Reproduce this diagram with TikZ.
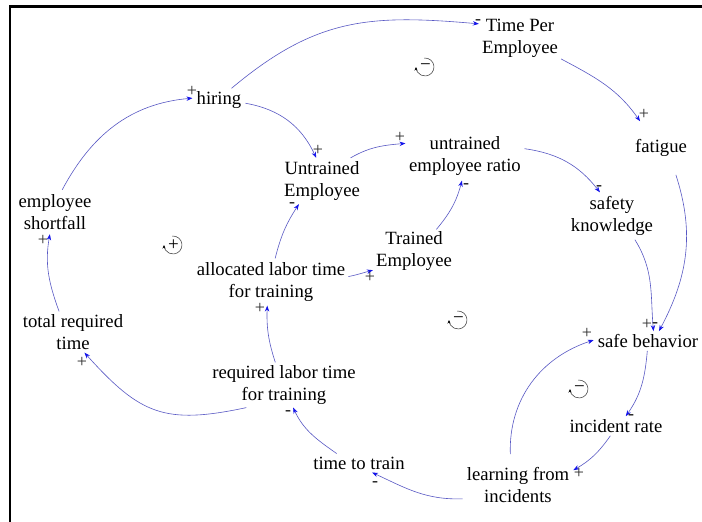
\documentclass[tikz,border=0pt]{standalone}
\usepackage{fontspec}
\setmainfont{Liberation Serif}
\usetikzlibrary{arrows.meta}
\definecolor{linkc}{RGB}{88,88,196}
\definecolor{tipc}{RGB}{20,20,235}
\definecolor{signc}{RGB}{45,45,45}
\tikzset{
  var/.style={align=center, inner xsep=3pt, inner ysep=3pt,
    font=\fontsize{18.7}{21.8}\selectfont},
  link/.style={draw=linkc, line width=0.6pt,
    -{Stealth[length=6pt,width=4.4pt,color=tipc]}},
  sgn/.style={inner sep=0pt, font=\fontsize{18}{18}\selectfont, text=signc},
  pics/loopsign/.style={code={
    \draw[line width=0.55pt, draw=black!75,
      -{Stealth[length=3.5pt,width=3pt,color=black]}] (95:9) arc (95:-180:9);
    \node[inner sep=0pt, font=\fontsize{19}{19}\selectfont] (-s) at (0.5,0) {#1};
  }},
}
\begin{document}
\begin{tikzpicture}[x=1pt,y=1pt]
  \fill[white] (0,0) rectangle (702,-522);
  \useasboundingbox (0,0) rectangle (702,-522);
  % frame edges
  \draw[line width=2.2pt] (10,-522) -- (10,-6.5) -- (702,-6.5);

  % variables
  \node[var] (tpe) at (520,-38) {Time Per\\Employee};
  \node[var, inner xsep=4pt] (hiring) at (219,-100) {hiring};
  \node[var, inner ysep=18pt] (fat) at (661,-148) {fatigue};
  \node[var, inner ysep=3.5pt] (ue) at (322,-181) {Untrained\\Employee};
  \node[var, inner xsep=3.5pt, inner ysep=5pt] (uer) at (465,-156) {untrained\\employee ratio};
  \node[var, inner ysep=4pt] (sk) at (612,-216) {safety\\knowledge};
  \node[var, inner ysep=4.5pt] (es) at (55,-212) {employee\\shortfall};
  \node[var, inner ysep=2pt] (te) at (414,-251) {Trained\\Employee};
  \node[var, inner ysep=4pt] (alt) at (271,-282) {allocated labor time\\for training};
  \node[var] (trt) at (73,-332) {total required\\time};
  \node[var, inner xsep=4pt] (sb) at (648,-341) {safe behavior};
  \node[var] (rlt) at (284,-385) {required labor time\\for training};
  \node[var] (ir) at (616,-426) {incident rate};
  \node[var] (ttt) at (359,-463) {time to train};
  \node[var, inner xsep=4pt, inner ysep=13pt] (lfi) at (518,-485) {learning from\\incidents};

  % causal links
  \draw[link] (hiring.43) to[out=40,in=175,looseness=1.1] (tpe.161);
  \draw[link] (tpe.-27) to[out=-28,in=125] (fat.128);
  \draw[link] (fat.-61) to[out=-72,in=62] (sb.42);
  \draw[link] (hiring.-7) to[out=-10,in=115] (ue.104);
  \draw[link] (es.72) to[out=62,in=-175] (hiring.176);
  \draw[link] (trt.124) to[out=110,in=-100] (es.-103);
  \draw[link] (rlt.-149) to[out=-168,in=-48,looseness=1.25] (trt.-61);
  \draw[link] (rlt.111) to[out=108,in=-92] (alt.-99);
  \draw[link] (alt.80) to[out=76,in=-123] (ue.-135);
  \draw[link] (alt.4) to[out=12,in=-165] (te.-155);
  \draw[link] (te.44) to[out=50,in=-105] (uer.-97);
  \draw[link] (ue.39) to[out=30,in=-175] (uer.168);
  \draw[link] (uer.7) to[out=-8,in=128] (sk.117);
  \draw[link] (sk.-46) to[out=-58,in=95] (sb.61);
  \draw[link] (sb.-94) to[out=-95,in=55] (ir.45);
  \draw[link] (ir.-120) to[out=-125,in=30] (lfi.15);
  \draw[link] (lfi.104) to[out=92,in=-162] (sb.179);
  \draw[link] (lfi.-166) to[out=-178,in=-25] (ttt.-36);
  \draw[link] (ttt.157) to[out=145,in=-65] (rlt.-68);

  % link polarities
  \node[sgn, font=\bfseries\fontsize{18}{18}\selectfont] (s1) at (478,-22) {-};
  \node[sgn] (s2) at (644,-114) {+};
  \node[sgn, font=\bfseries\fontsize{18}{18}\selectfont] (s3) at (655,-325) {-};
  \node[sgn] (s4) at (318,-150) {+};
  \node[sgn] (s5) at (192,-91) {+};
  \node[sgn] (s6) at (43,-240) {+};
  \node[sgn] (s7) at (82,-362) {+};
  \node[sgn] (s8) at (260,-308) {+};
  \node[sgn, font=\bfseries\fontsize{18}{18}\selectfont] (s9) at (292,-205) {-};
  \node[sgn] (s10) at (370,-277) {+};
  \node[sgn, font=\bfseries\fontsize{18}{18}\selectfont] (s11) at (466,-186) {-};
  \node[sgn] (s12) at (400,-137) {+};
  \node[sgn, font=\bfseries\fontsize{18}{18}\selectfont] (s13) at (599,-188) {-};
  \node[sgn] (s14) at (647,-324) {+};
  \node[sgn, font=\bfseries\fontsize{18}{18}\selectfont] (s15) at (631,-417) {-};
  \node[sgn] (s16) at (579,-473) {+};
  \node[sgn] (s17) at (587,-333) {+};
  \node[sgn, font=\bfseries\fontsize{18}{18}\selectfont] (s18) at (375,-484) {-};
  \node[sgn, font=\bfseries\fontsize{18}{18}\selectfont] (s19) at (288,-413) {-};

  % loop identifiers
  \pic (loopA) at (173,-245) {loopsign=+};
  \pic (loopB) at (425,-67) {loopsign=−};
  \pic (loopC) at (458,-320) {loopsign=−};
  \pic (loopD) at (579,-389) {loopsign=−};
\end{tikzpicture}
\end{document}
